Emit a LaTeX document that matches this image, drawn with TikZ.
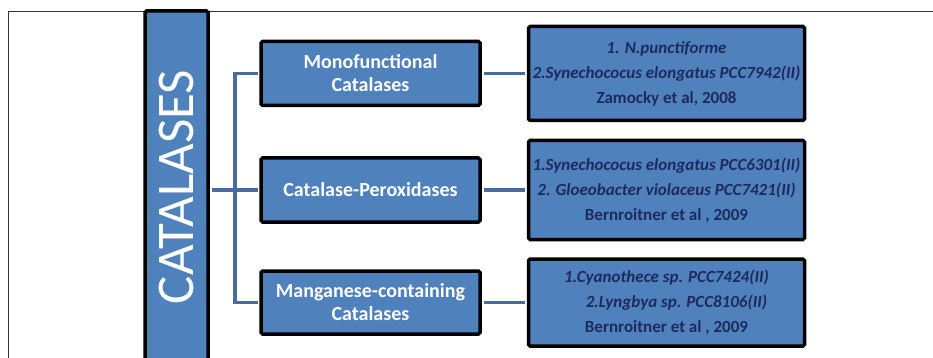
\documentclass[tikz,border=0pt]{standalone}
\usepackage{fontspec}
\setmainfont{Carlito}
\usetikzlibrary{positioning}
\definecolor{boxblue}{RGB}{79,129,189}
\definecolor{linkblue}{RGB}{70,108,160}
\definecolor{refnavy}{RGB}{31,42,92}
\tikzstyle{bluebox}=[draw=black, fill=boxblue, line width=3.5pt, rounded corners=1.5pt]
\tikzstyle{groupbox}=[bluebox, minimum width=219pt, minimum height=64pt, text=white, font=\bfseries\fontsize{20}{23}\selectfont, align=center]
\tikzstyle{refbox}=[bluebox, minimum width=276pt, text=refnavy, font=\bfseries\fontsize{17}{25}\selectfont, align=center]
\tikzstyle{link}=[draw=linkblue, line width=3.5pt, shorten <=1.75pt, shorten >=1.75pt]

\begin{document}
\begin{tikzpicture}[x=1pt, y=-1pt]
            \useasboundingbox (0,0) rectangle (933,358);
            \clip (0,0) rectangle (933,358);
            \draw[line width=0.8pt, black!80] (8,358) -- (8,11) -- (933,11);

            \node[bluebox, minimum width=63pt, minimum height=352pt] (root) at (176.5,187) {};
            \node[rotate=90, text=white, font=\fontsize{53}{60}\selectfont] (rootlabel) at (root.center) {CATALASES};

            \node[groupbox] (mono) at (370.5,73.5) {Monofunctional\\Catalases};
            \node[groupbox] (perox) at (370.5,190) {Catalase-Peroxidases};
            \node[groupbox, minimum height=63pt] (mang) at (370.5,302.5) {Manganese-containing\\Catalases};

            \node[refbox, minimum height=94pt, right=45pt of mono] (monoref) {\textit{1. N.punctiforme}\\\textit{2.Synechococus elongatus PCC7942(II)}\\Zamocky et al, 2008};
            \node[refbox, minimum height=99pt, right=45pt of perox] (peroxref) {\textit{1.Synechococus elongatus PCC6301(II)}\\\textit{2. Gloeobacter violaceus PCC7421(II)}\\Bernroitner et al , 2009};
            \node[refbox, minimum height=87pt, right=45pt of mang] (mangref) {\textit{1.Cyanothece sp. PCC7424(II)}\\\hspace*{20pt}\textit{2.Lyngbya sp. PCC8106(II)}\\Bernroitner et al , 2009};

            \coordinate (fork) at (235,190);
            \draw[link] (root.east |- fork) -- (perox.west);
            \draw[link] (mono.west) -| (fork) |- (mang.west);

            \draw[link] (mono.east) -- (monoref.west);
            \draw[link] (perox.east) -- (peroxref.west);
            \draw[link] (mang.east) -- (mangref.west);
        \end{tikzpicture}
\end{document}
